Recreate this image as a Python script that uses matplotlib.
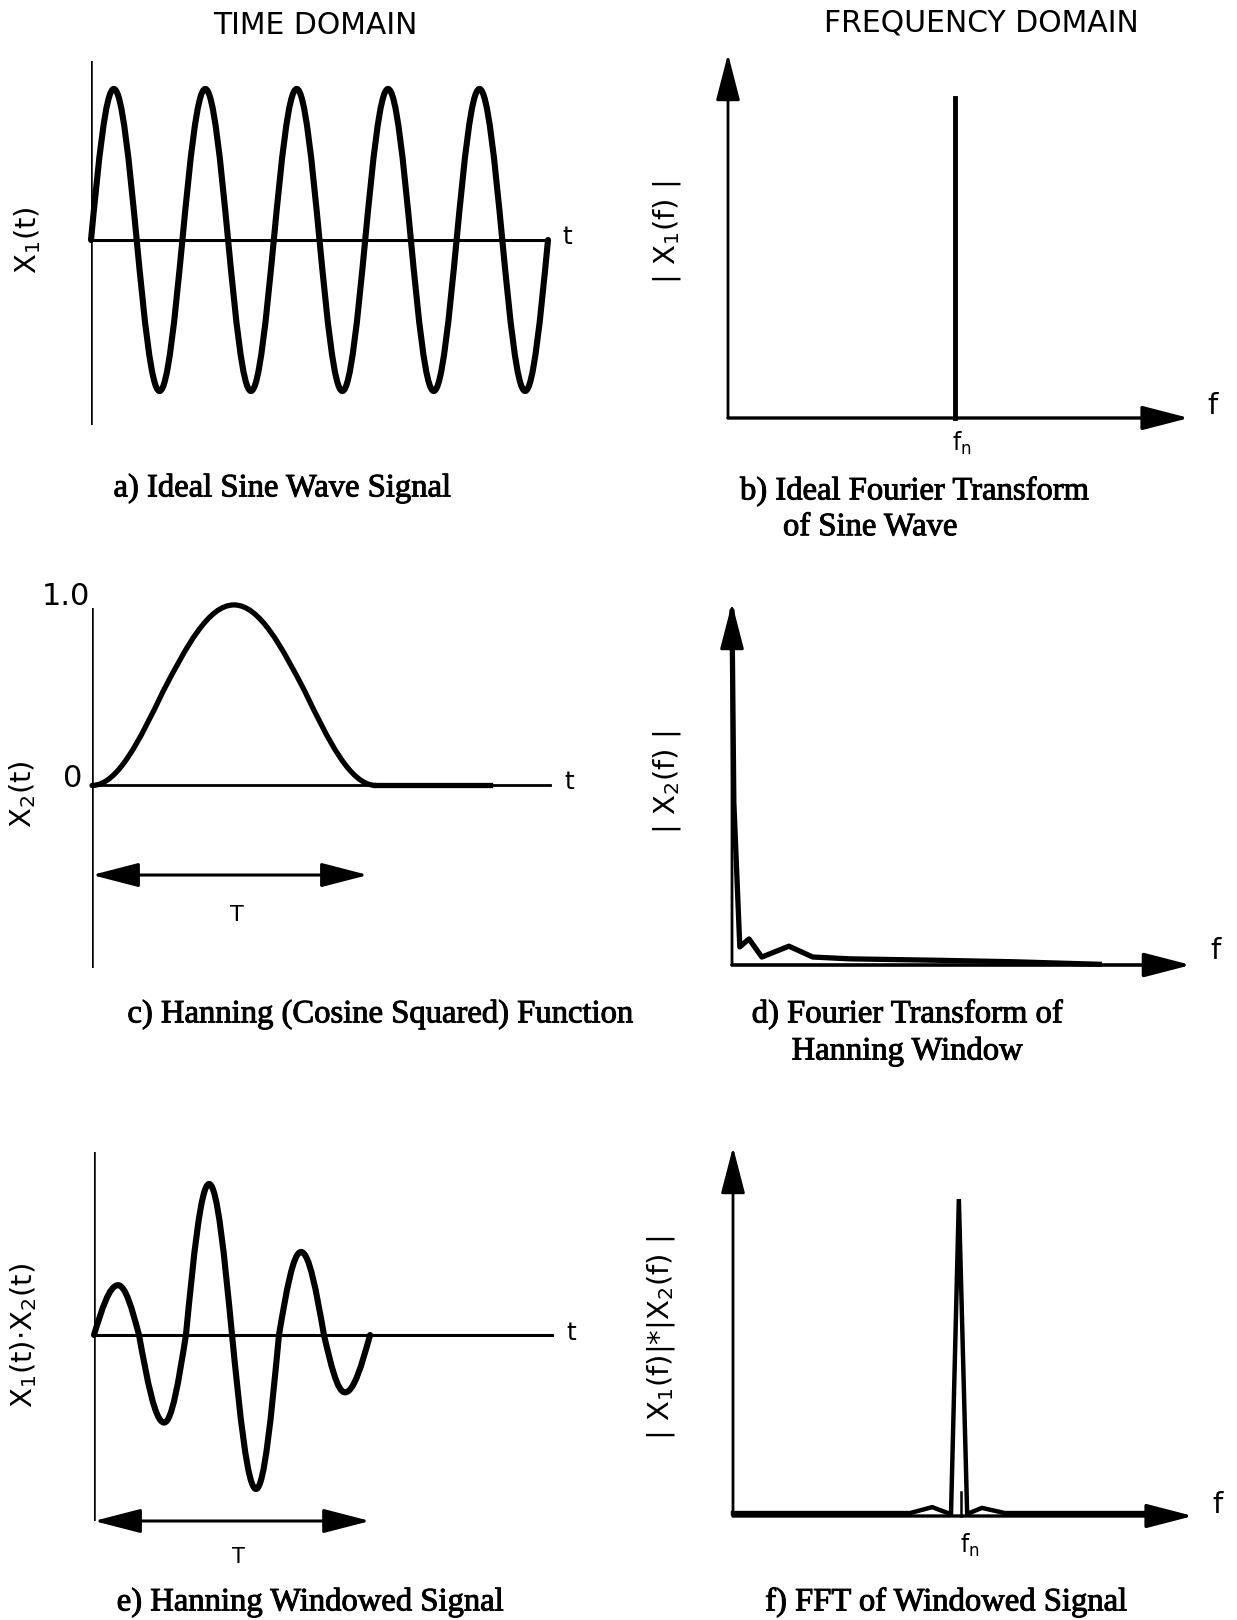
import matplotlib
matplotlib.use("Agg")
import matplotlib.pyplot as plt
from matplotlib.path import Path
from matplotlib.patches import PathPatch
import matplotlib.patheffects as pe

# ---- data ----
# a) ideal sine: knots at zero crossings / peaks, t in cycles
a_t = [0, 0.25, 0.5, 0.75, 1.0, 1.25, 1.5, 1.75, 2.0, 2.25, 2.5,
       2.75, 3.0, 3.25, 3.5, 3.75, 4.0, 4.25, 4.5, 4.75, 5.0]
a_x = [0, 1, 0, -1, 0, 1, 0, -1, 0, 1, 0, -1, 0, 1, 0, -1, 0, 1, 0, -1, 0]

# b) ideal transform: single line at f_n
b_fn = 0.492
b_peak = 0.879

# c) hanning window, t in units of T
c_t = [0, 0.25, 0.5, 0.75, 1.0]
c_x = [0, 0.52, 1.0, 0.52, 0]
c_tail_t = [1.0, 1.40]
c_tail_x = [0, 0]

# d) transform of hanning window
d_f = [0.0, 0.004, 0.017, 0.037, 0.065, 0.124, 0.176, 0.257, 0.45, 0.612, 0.80]
d_x = [0.975, 0.45, 0.05, 0.072, 0.022, 0.052, 0.022, 0.017, 0.013, 0.009, 0.002]

# e) windowed signal, t in units of T
e_t = [0, 0.087, 0.163, 0.254, 0.333, 0.417, 0.5, 0.587, 0.67, 0.75, 0.833, 0.909, 1.0]
e_x = [0, 0.33, 0, -0.58, 0, 1.0, 0, -1.02, 0, 0.55, 0, -0.38, 0]

# f) FFT of windowed signal
f_f = [0.0, 0.385, 0.433, 0.467, 0.474, 0.491, 0.509, 0.514, 0.541, 0.591, 0.91]
f_x = [0.008, 0.008, 0.024, 0.008, 0.008, 0.859, 0.008, 0.008, 0.022, 0.008, 0.008]
f_center = 0.496
f_center_h = 0.065

W, H = 1237, 1620
SANS = "DejaVu Sans"
SERIF = "Liberation Serif"

fig = plt.figure(figsize=(W / 100, H / 100), dpi=100)
fig.patch.set_facecolor("white")


def add_panel(left, top, right, bottom, xlim, ylim):
    ax = fig.add_axes([left / W, 1 - bottom / H, (right - left) / W, (bottom - top) / H])
    ax.set_xlim(xlim)
    ax.set_ylim(ylim)
    ax.set_axis_off()
    return ax


def wave(ax, ts, xs, start_extreme, lw=4.4):
    # sine-like bezier pieces between inflection points and extrema
    k1, k2, ky = 0.3261, 0.6381, 0.5123
    verts = [(ts[0], xs[0])]
    codes = [Path.MOVETO]
    for i in range(len(ts) - 1):
        p0 = (ts[i], xs[i])
        p3 = (ts[i + 1], xs[i + 1])
        from_mid = (i % 2 == 0) != start_extreme
        m, e = (p0, p3) if from_mid else (p3, p0)
        dx, dy = e[0] - m[0], e[1] - m[1]
        c1 = (m[0] + k1 * dx, m[1] + ky * dy)
        c2 = (m[0] + k2 * dx, e[1])
        verts += [c1, c2, p3] if from_mid else [c2, c1, p3]
        codes += [Path.CURVE4] * 3
    ax.add_patch(PathPatch(Path(verts, codes), fill=False, lw=lw, color="black",
                           capstyle="round", joinstyle="round", clip_on=False))


def arrow(ax, start, end, style="-|>", lw=2.0):
    ax.annotate("", xy=end, xytext=start,
                arrowprops=dict(arrowstyle=style + ",head_length=2.9,head_width=0.75",
                                lw=lw, color="black", shrinkA=0, shrinkB=0,
                                mutation_scale=10))


def label(ax, x, y, s, size=21, rot=0, family=SANS):
    ax.text(x, y, s, fontsize=size, rotation=rot, ha="center", va="center",
            family=family, clip_on=False)


def caption(x, y, s, ha="center"):
    fig.text(x / W, 1 - y / H, s, fontsize=23.5, family=SERIF, ha=ha, va="center",
             path_effects=[pe.withStroke(linewidth=0.7, foreground="black")])


# ---- headers ----
fig.text(315 / W, 1 - 25 / H, "TIME DOMAIN", fontsize=21.5, family=SANS, ha="center", va="center")
fig.text(981 / W, 1 - 23 / H, "FREQUENCY DOMAIN", fontsize=21.5, family=SANS, ha="center", va="center")

# ---- a) ideal sine ----
ax = add_panel(91, 61, 548, 425, (0, 5), (-1.225, 1.185))
ax.axvline(0, color="black", lw=1.8)
ax.plot([a_t[0], a_t[-1]], [0, 0], color="black", lw=2.2, clip_on=False)
wave(ax, a_t, a_x, start_extreme=False)
label(ax, 5.21, 0.02, "t", size=18)
label(ax, -0.69, 0.0, "X$_1$(t)", rot=90)
caption(282, 488, "a) Ideal Sine Wave Signal")

# ---- b) ideal transform ----
ax = add_panel(728, 54, 1189, 418, (0, 1), (0, 1))
arrow(ax, (0, 0), (0, 1), lw=2.0)
arrow(ax, (0, 0), (1, 0), lw=2.4)
ax.plot([b_fn, b_fn], [0, b_peak], color="black", lw=3.5, clip_on=False)
label(ax, 1.052, 0.033, "f")
label(ax, b_fn + 0.016, -0.071, "f$_\\mathregular{n}$", size=17)
label(ax, -0.132, 0.511, "| X$_1$(f) |", rot=90)
caption(740, 491, "b) Ideal Fourier Transform", ha="left")
caption(783, 527, "of Sine Wave", ha="left")

# ---- c) hanning function ----
ax = add_panel(92, 608, 550, 968, (0, 1.613), (-1.011, 0.983))
ax.axvline(0, color="black", lw=1.8)
ax.plot([0, 1.613], [0, 0], color="black", lw=2.0, clip_on=False)
wave(ax, c_t, c_x, start_extreme=True, lw=3.8)
ax.plot(c_tail_t, c_tail_x, color="black", lw=3.8, clip_on=False)
arrow(ax, (0, -0.496), (0.972, -0.496), style="<|-|>", lw=2.2)
label(ax, 0.51, -0.717, "T", size=16)
label(ax, 1.68, 0.02, "t", size=18)
label(ax, -0.067, 0.036, "0", size=22)
label(ax, -0.092, 1.045, "1.0", size=22)
label(ax, -0.246, -0.05, "X$_2$(t)", rot=90)
caption(380, 1014, "c) Hanning (Cosine Squared) Function")

# ---- d) transform of hanning window ----
ax = add_panel(732, 603, 1191, 965, (0, 1), (0, 1))
arrow(ax, (0, 0), (0, 1), lw=2.0)
arrow(ax, (0, 0), (1, 0), lw=2.6)
ax.plot(d_f, d_x, color="black", lw=3.8, solid_joinstyle="round", clip_on=False)
label(ax, 1.054, 0.039, "f")
label(ax, -0.142, 0.506, "| X$_2$(f) |", rot=90)
caption(907, 1014, "d) Fourier Transform of")
caption(907, 1051, "Hanning Window")

# ---- e) windowed signal ----
ax = add_panel(94, 1152, 552, 1521, (0, 1.659), (-1.232, 1.212))
ax.axvline(0, color="black", lw=1.8)
ax.plot([0, 1.659], [0, 0], color="black", lw=2.2, clip_on=False)
wave(ax, e_t, e_x, start_extreme=False)
arrow(ax, (0, -1.232), (1.0, -1.232), style="<|-|>", lw=2.2)
label(ax, 0.525, -1.47, "T", size=15)
label(ax, 1.73, 0.01, "t", size=18)
label(ax, -0.255, 0.0, "X$_1$(t)$\\cdot$X$_2$(t)", rot=90)
caption(310, 1602, "e) Hanning Windowed Signal")

# ---- f) FFT of windowed signal ----
ax = add_panel(733, 1147, 1193, 1516, (0, 1), (0, 1))
arrow(ax, (0, 0), (0, 1), lw=2.0)
arrow(ax, (0, 0), (1, 0), lw=2.4)
ax.plot(f_f, f_x, color="black", lw=3.2, solid_joinstyle="miter", clip_on=False)
ax.plot([f_center, f_center], [0, f_center_h], color="black", lw=1.8, clip_on=False)
label(ax, 1.054, 0.03, "f")
label(ax, 0.515, -0.079, "f$_\\mathregular{n}$", size=17)
label(ax, -0.157, 0.482, "| X$_1$(f)|*|X$_2$(f) |", rot=90)
caption(946, 1602, "f) FFT of Windowed Signal")

fig.savefig("out.png", dpi=100, facecolor="white")
